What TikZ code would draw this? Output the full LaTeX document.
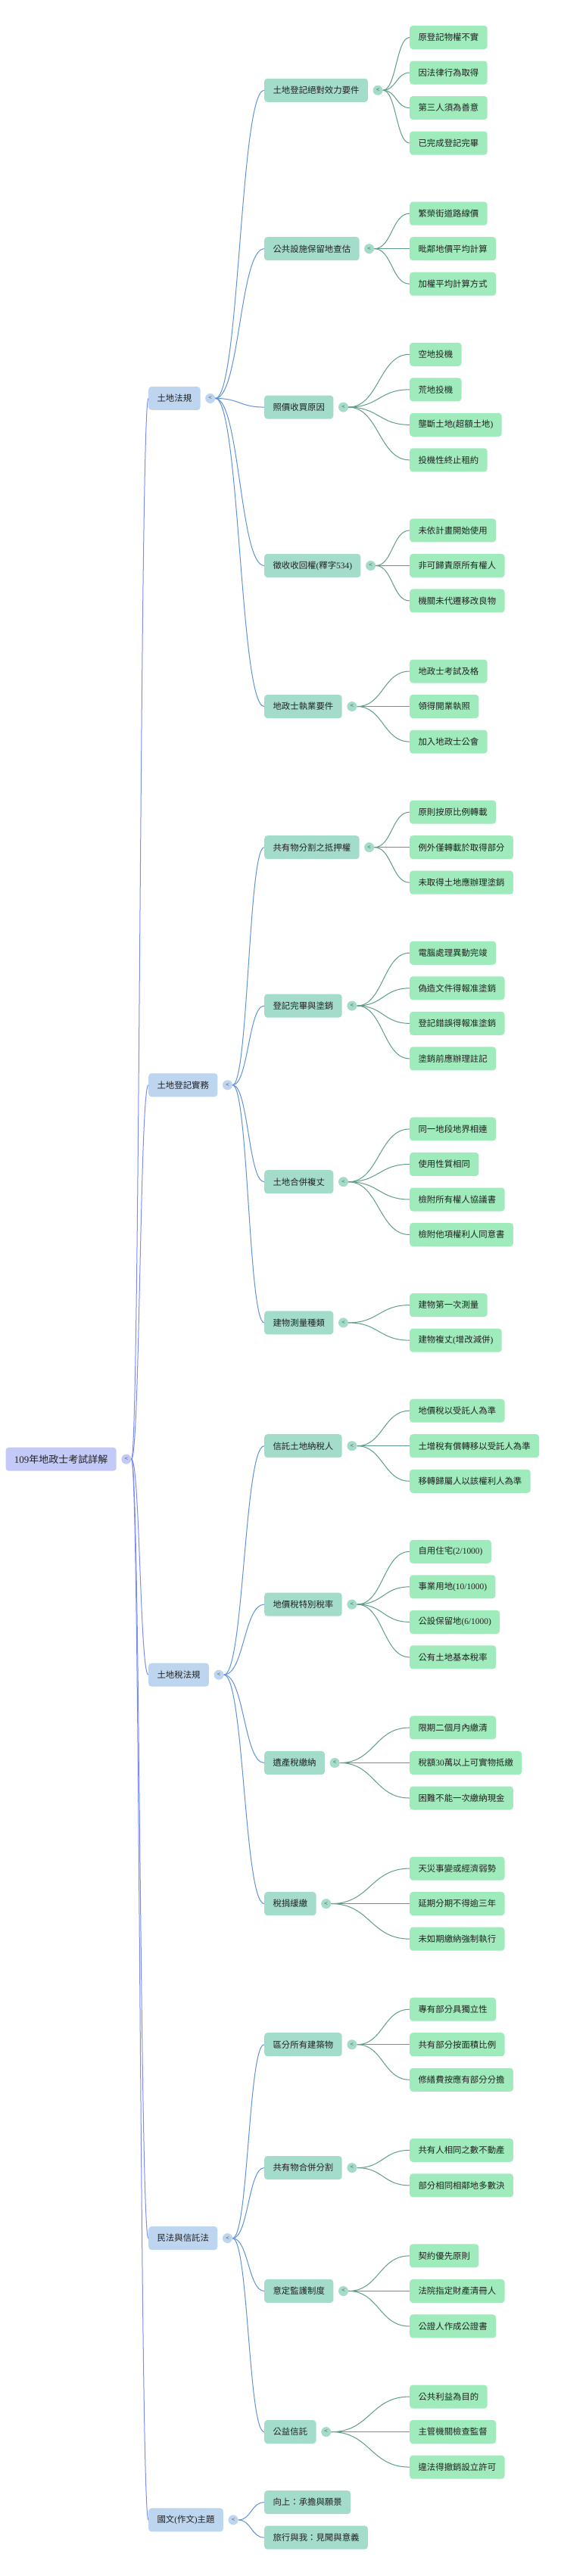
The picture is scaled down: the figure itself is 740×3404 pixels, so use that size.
\documentclass[tikz,border=0pt]{standalone}
\usepackage{fontspec}
\setmainfont{Noto Sans CJK TC}
\newfontfamily\latin{Liberation Serif}
\usetikzlibrary{calc}

\definecolor{rootfill}{HTML}{C4CAF8}
\definecolor{lonefill}{HTML}{BDD5EE}
\definecolor{ltwofill}{HTML}{A3DCCB}
\definecolor{leaffill}{HTML}{9FEBBB}
\definecolor{rootedge}{HTML}{7C8CF4}
\definecolor{loneedge}{HTML}{5F93D6}
\definecolor{ltwoedge}{HTML}{5E9E88}
\definecolor{txt}{HTML}{222222}
\definecolor{knobtxt}{HTML}{666666}

\tikzset{
  box/.style={rounded corners=4pt, minimum height=31pt, inner xsep=11.35pt, inner ysep=0pt,
    anchor=west, text=txt, font=\fontsize{11.4pt}{13pt}\selectfont},
  rootbox/.style={box, fill=rootfill, font=\fontsize{13pt}{15pt}\selectfont},
  lonebox/.style={box, fill=lonefill},
  ltwobox/.style={box, fill=ltwofill},
  leafbox/.style={box, fill=leaffill},
  knob/.style={circle, minimum size=13pt, inner sep=0pt, text=knobtxt,
    font=\fontsize{8pt}{8pt}\selectfont},
  link/.style={line width=1pt},
}

% connector: colour, from, to
\newcommand\conn[3]{\draw[link,#1] let \p1=(#2), \p2=(#3) in
  (\p1) .. controls (0.5*\x1+0.5*\x2,\y1) and (0.5*\x1+0.5*\x2,\y2) .. (\p2);}
% slot position
\newcommand\sy[1]{{49.5+#1*46.53}}
% knob after a box: name, box, fill
\newcommand\knobat[3]{\node[knob,fill=#3] (#1) at ([xshift=13pt]#2.east) {<};}
% level-2 node: name, parent knob, slot, text
\newcommand\ltwo[4]{\node[ltwobox] (#1) at (349,\sy{#3}) {#4};
  \knobat{#1k}{#1}{ltwofill}
  \conn{loneedge}{#2.east}{#1.west}}
% leaf: name, parent knob, slot, text
\newcommand\leafn[4]{\node[leafbox] (#1) at (541,\sy{#3}) {#4};
  \conn{ltwoedge}{#2.east}{#1.west}}
% level-1 node: name, slot, text
\newcommand\lone[3]{\node[lonebox] (#1) at (196,\sy{#2}) {#3};
  \knobat{#1k}{#1}{lonefill}
  \conn{rootedge}{rootk.east}{#1.west}}

\begin{document}
\begin{tikzpicture}[x=1pt,y=-1pt]
\useasboundingbox (0,0) rectangle (740,3404);
\fill[white] (0,0) rectangle (740,3404);

% root
\node[rootbox] (root) at (7.3,\sy{40.375}) {{\latin 109}年地政士考試詳解};
\knobat{rootk}{root}{rootfill}

% level 1
\lone{A}{10.25}{土地法規}
\lone{B}{29.75}{土地登記實務}
\lone{C}{46.5}{土地稅法規}
\lone{D}{62.5}{民法與信託法}
\lone{E}{70.5}{國文{\latin (}作文{\latin )}主題}

% ---- 土地法規
\ltwo{a1}{Ak}{1.5}{土地登記絕對效力要件}
\leafn{a1a}{a1k}{0}{原登記物權不實}
\leafn{a1b}{a1k}{1}{因法律行為取得}
\leafn{a1c}{a1k}{2}{第三人須為善意}
\leafn{a1d}{a1k}{3}{已完成登記完畢}

\ltwo{a2}{Ak}{6}{公共設施保留地查估}
\leafn{a2a}{a2k}{5}{繁榮街道路線價}
\leafn{a2b}{a2k}{6}{毗鄰地價平均計算}
\leafn{a2c}{a2k}{7}{加權平均計算方式}

\ltwo{a3}{Ak}{10.5}{照價收買原因}
\leafn{a3a}{a3k}{9}{空地投機}
\leafn{a3b}{a3k}{10}{荒地投機}
\leafn{a3c}{a3k}{11}{壟斷土地{\latin (}超額土地{\latin )}}
\leafn{a3d}{a3k}{12}{投機性終止租約}

\ltwo{a4}{Ak}{15}{徵收收回權{\latin (}釋字{\latin 534)}}
\leafn{a4a}{a4k}{14}{未依計畫開始使用}
\leafn{a4b}{a4k}{15}{非可歸責原所有權人}
\leafn{a4c}{a4k}{16}{機關未代遷移改良物}

\ltwo{a5}{Ak}{19}{地政士執業要件}
\leafn{a5a}{a5k}{18}{地政士考試及格}
\leafn{a5b}{a5k}{19}{領得開業執照}
\leafn{a5c}{a5k}{20}{加入地政士公會}

% ---- 土地登記實務
\ltwo{b1}{Bk}{23}{共有物分割之抵押權}
\leafn{b1a}{b1k}{22}{原則按原比例轉載}
\leafn{b1b}{b1k}{23}{例外僅轉載於取得部分}
\leafn{b1c}{b1k}{24}{未取得土地應辦理塗銷}

\ltwo{b2}{Bk}{27.5}{登記完畢與塗銷}
\leafn{b2a}{b2k}{26}{電腦處理異動完竣}
\leafn{b2b}{b2k}{27}{偽造文件得報准塗銷}
\leafn{b2c}{b2k}{28}{登記錯誤得報准塗銷}
\leafn{b2d}{b2k}{29}{塗銷前應辦理註記}

\ltwo{b3}{Bk}{32.5}{土地合併複丈}
\leafn{b3a}{b3k}{31}{同一地段地界相連}
\leafn{b3b}{b3k}{32}{使用性質相同}
\leafn{b3c}{b3k}{33}{檢附所有權人協議書}
\leafn{b3d}{b3k}{34}{檢附他項權利人同意書}

\ltwo{b4}{Bk}{36.5}{建物測量種類}
\leafn{b4a}{b4k}{36}{建物第一次測量}
\leafn{b4b}{b4k}{37}{建物複丈{\latin (}增改減併{\latin )}}

% ---- 土地稅法規
\ltwo{c1}{Ck}{40}{信託土地納稅人}
\leafn{c1a}{c1k}{39}{地價稅以受託人為準}
\leafn{c1b}{c1k}{40}{土增稅有償轉移以受託人為準}
\leafn{c1c}{c1k}{41}{移轉歸屬人以該權利人為準}

\ltwo{c2}{Ck}{44.5}{地價稅特別稅率}
\leafn{c2a}{c2k}{43}{自用住宅{\latin (2/1000)}}
\leafn{c2b}{c2k}{44}{事業用地{\latin (10/1000)}}
\leafn{c2c}{c2k}{45}{公設保留地{\latin (6/1000)}}
\leafn{c2d}{c2k}{46}{公有土地基本稅率}

\ltwo{c3}{Ck}{49}{遺產稅繳納}
\leafn{c3a}{c3k}{48}{限期二個月內繳清}
\leafn{c3b}{c3k}{49}{稅額{\latin 30}萬以上可實物抵繳}
\leafn{c3c}{c3k}{50}{困難不能一次繳納現金}

\ltwo{c4}{Ck}{53}{稅捐緩繳}
\leafn{c4a}{c4k}{52}{天災事變或經濟弱勢}
\leafn{c4b}{c4k}{53}{延期分期不得逾三年}
\leafn{c4c}{c4k}{54}{未如期繳納強制執行}

% ---- 民法與信託法
\ltwo{d1}{Dk}{57}{區分所有建築物}
\leafn{d1a}{d1k}{56}{專有部分具獨立性}
\leafn{d1b}{d1k}{57}{共有部分按面積比例}
\leafn{d1c}{d1k}{58}{修繕費按應有部分分擔}

\ltwo{d2}{Dk}{60.5}{共有物合併分割}
\leafn{d2a}{d2k}{60}{共有人相同之數不動產}
\leafn{d2b}{d2k}{61}{部分相同相鄰地多數決}

\ltwo{d3}{Dk}{64}{意定監護制度}
\leafn{d3a}{d3k}{63}{契約優先原則}
\leafn{d3b}{d3k}{64}{法院指定財產清冊人}
\leafn{d3c}{d3k}{65}{公證人作成公證書}

\ltwo{d4}{Dk}{68}{公益信託}
\leafn{d4a}{d4k}{67}{公共利益為目的}
\leafn{d4b}{d4k}{68}{主管機關檢查監督}
\leafn{d4c}{d4k}{69}{違法得撤銷設立許可}

% ---- 國文(作文)主題
\node[ltwobox] (e1) at (349,\sy{70}) {向上：承擔與願景};
\node[ltwobox] (e2) at (349,\sy{71}) {旅行與我：見聞與意義};
\conn{loneedge}{Ek.east}{e1.west}
\conn{loneedge}{Ek.east}{e2.west}
\end{tikzpicture}
\end{document}
